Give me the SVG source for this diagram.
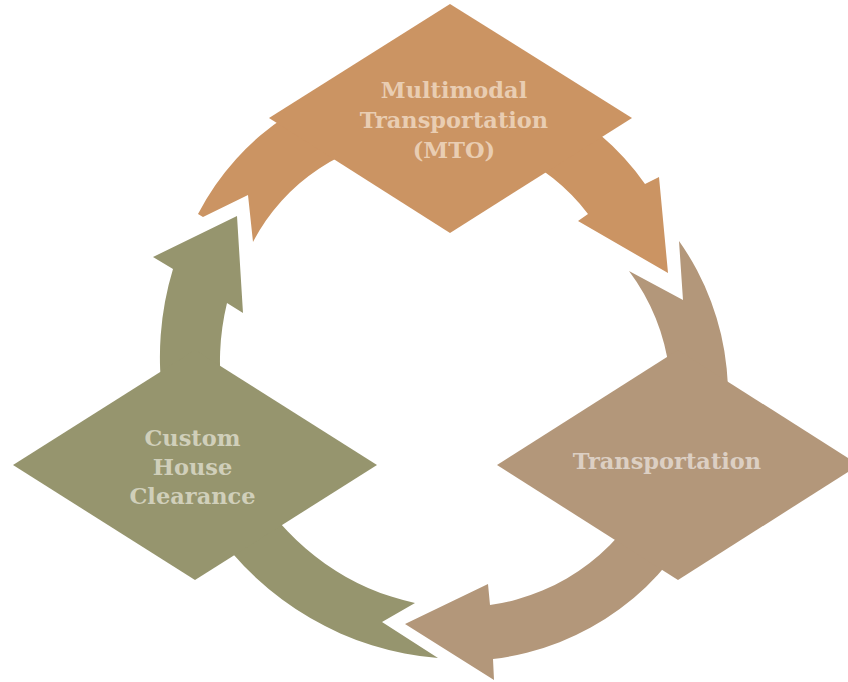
<svg xmlns="http://www.w3.org/2000/svg" width="848" height="682" viewBox="0 0 848 682">
<style>
.orange{fill:#CB9463}
.tan{fill:#B3977A}
.olive{fill:#96956E}
.lbl{font-family:"DejaVu Serif","Liberation Serif",serif;font-weight:bold;font-size:22.5px;text-anchor:middle}
</style>
<rect width="848" height="682" fill="#FFFFFF"/>
<g id="connectors">
<path id="arc-mto" class="orange" d="M198,214 L203,217 L248,195 L253,242 A199,199 0 0 1 588,214 L578,221 L668,273 L659,177 L645,184 A262,262 0 0 0 198,214 Z"/>
<path id="arc-transport" class="tan" d="M679,241 L683,300 L629,271 A210,210 0 0 1 490,605 L488,584 L405,624 L494,680 L493,659 A266,266 0 0 0 679,241 Z"/>
<path id="arc-custom" class="olive" d="M415,603 L382,622 L438,658 A302,302 0 0 1 173,269 L153,257 L237,216 L243,313 L227,303 A247,247 0 0 0 415,603 Z"/>
</g>
<g id="node-mto">
<polygon class="orange" points="450,4 632,118 450,233 269,118"/>
<text class="lbl" fill="#E9CDB2" x="454" y="98">Multimodal</text>
<text class="lbl" fill="#E9CDB2" x="454" y="128">Transportation</text>
<text class="lbl" fill="#E9CDB2" x="454" y="158">(MTO)</text>
</g>
<g id="node-transportation">
<polygon class="tan" points="678,350 859,465 678,580 497,465"/>
<text class="lbl" fill="#DCCFC3" x="667" y="469">Transportation</text>
</g>
<g id="node-custom">
<polygon class="olive" points="195,350 377,465 195,580 13,465"/>
<text class="lbl" fill="#D0CFBA" x="192.5" y="446">Custom</text>
<text class="lbl" fill="#D0CFBA" x="192.5" y="475">House</text>
<text class="lbl" fill="#D0CFBA" x="192.5" y="504">Clearance</text>
</g>
</svg>
